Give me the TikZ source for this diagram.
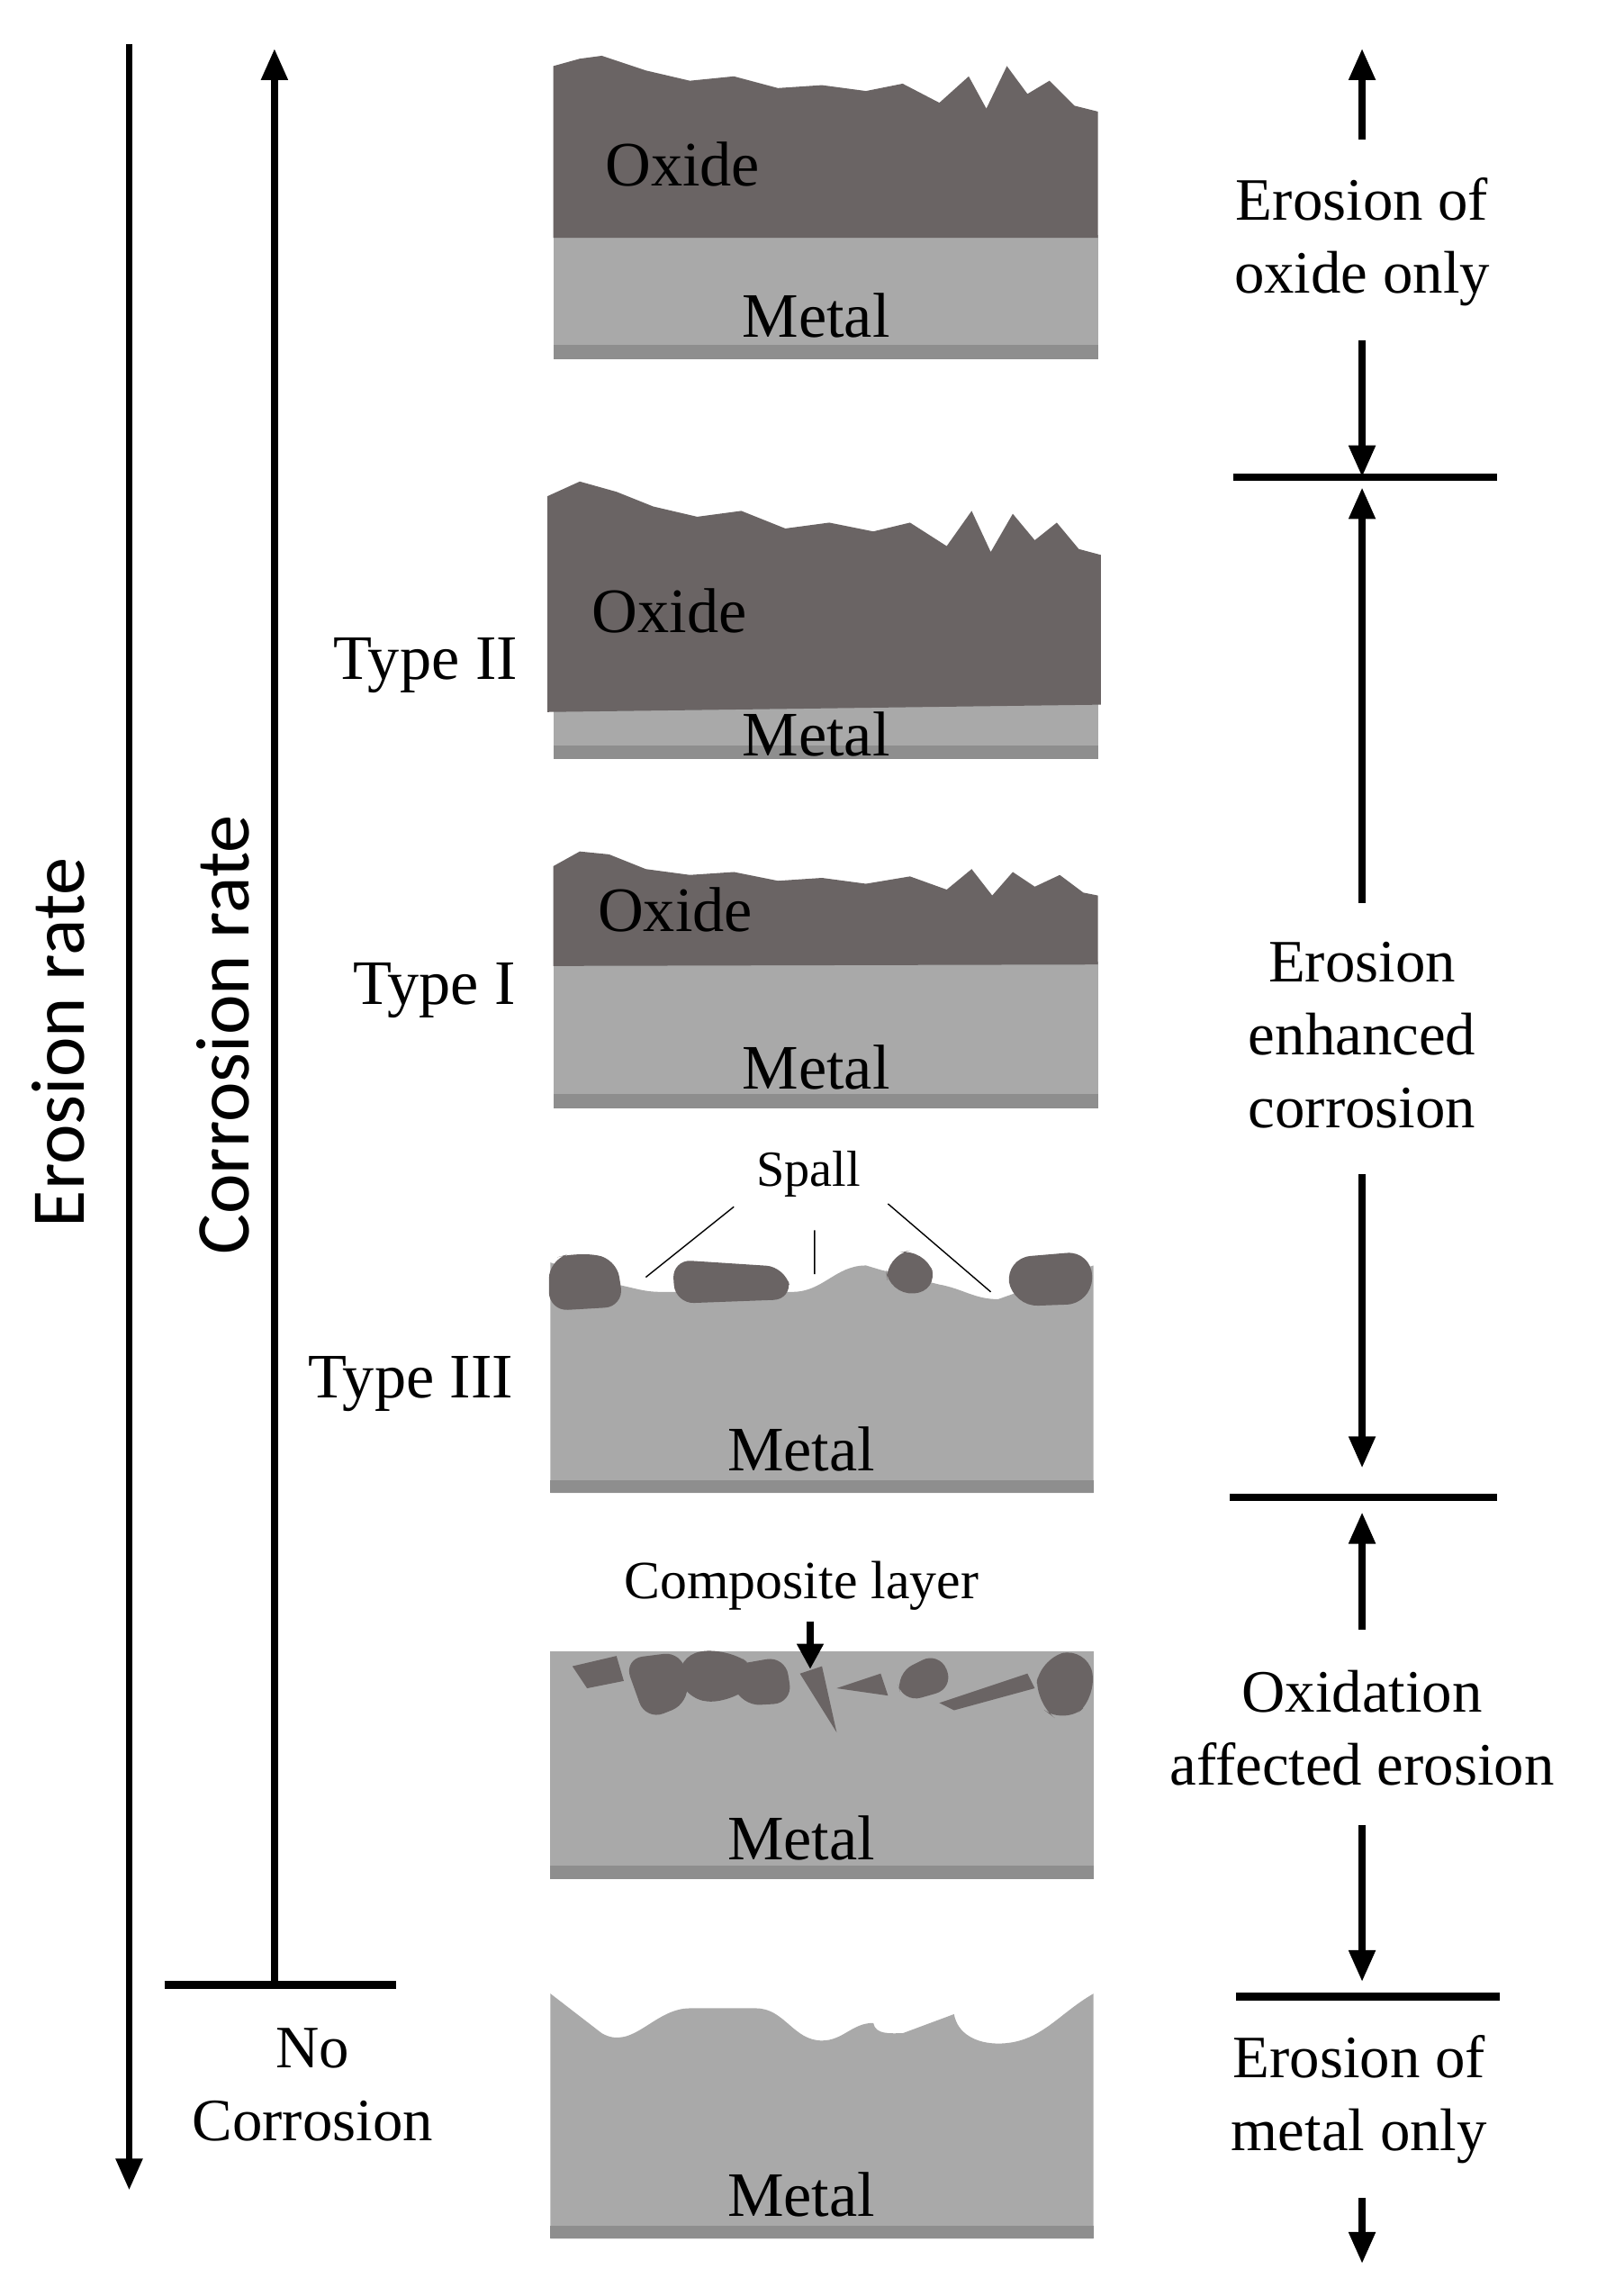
\documentclass[tikz,border=0pt]{standalone}
\usepackage{fontspec}
\setmainfont{Liberation Serif}
\newfontfamily\sansf{Carlito}
\usetikzlibrary{arrows.meta}
\definecolor{metal}{HTML}{A9A9A9}
\definecolor{metaldk}{HTML}{8E8E8E}
\definecolor{oxide}{HTML}{6A6464}
\begin{document}
\begin{tikzpicture}[x=0.0163cm,y=-0.0163cm,
  ar/.style={line width=2.2pt,-{Triangle[length=10pt,width=8pt]}},
  bar/.style={line width=2.5pt},
  lab/.style={font=\fontsize{19}{23}\selectfont,align=center},
  blab/.style={font=\fontsize{20}{24}\selectfont},
  rate/.style={font=\sansf\fontsize{24}{28}\selectfont,rotate=90},
  metalf/.style={fill=metal,draw=none},
  oxf/.style={fill=oxide,draw=none}]
\useasboundingbox (0,0) rectangle (1100,1564);
% left axes
\coordinate (e0) at (88,30); \coordinate (e1) at (88,1492);
\draw[ar] (e0) -- (e1);
\node[rate] (er) at (40,710) {Erosion rate};
\coordinate (c0) at (187,1352); \coordinate (c1) at (187,33);
\draw[ar] (c0) -- (c1);
\node[rate] (cr) at (152,705) {Corrosion rate};
\coordinate (nb0) at (112,1352); \coordinate (nb1) at (270,1352);
\draw[bar] (nb0) -- (nb1);
\node[lab] (nc) at (213,1420) {No\\Corrosion};
% block 1
\fill[metalf] (377,160) rectangle (748,245);
\fill[metaldk] (377,235) -- (748,235) -- (748,245) -- (377,245) -- cycle;
\fill[oxf] (377,162) -- (377,45) -- (395,40) -- (410,38) -- (440,48) -- (470,55) -- (500,52) -- (530,60) -- (560,58) -- (590,62) -- (615,57) -- (640,70) -- (660,52) -- (672,74) -- (686,45) -- (700,64) -- (715,55) -- (732,72) -- (748,76) -- (748,162) -- cycle;
\node[blab] (o1) at (465,112) {Oxide};
\node[blab] (m1) at (556,215) {Metal};
% block 2
\fill[metalf] (377,478) rectangle (748,517);
\fill[metaldk] (377,508) rectangle (748,517);
\fill[oxf] (373,485) -- (373,338) -- (395,328) -- (420,335) -- (445,345) -- (475,352) -- (505,348) -- (535,360) -- (565,356) -- (595,362) -- (620,356) -- (645,372) -- (662,348) -- (675,376) -- (690,350) -- (705,368) -- (720,356) -- (735,374) -- (750,378) -- (750,480) -- cycle;
\node[blab] (o2) at (456,416) {Oxide};
\node[blab] (m2) at (556,500) {Metal};
\node[blab] (t2) at (290,453) {Type II};
% block 3
\fill[metalf] (377,655) rectangle (748,755);
\fill[metaldk] (377,745) rectangle (748,755);
\fill[oxf] (377,658) -- (377,590) -- (395,580) -- (415,582) -- (440,592) -- (470,596) -- (500,594) -- (530,600) -- (560,598) -- (590,602) -- (620,597) -- (645,606) -- (662,592) -- (676,610) -- (690,594) -- (705,604) -- (722,596) -- (738,608) -- (748,610) -- (748,657) -- cycle;
\node[blab] (o3) at (460,620) {Oxide};
\node[blab] (m3) at (556,727) {Metal};
\node[blab] (t1) at (296,675) {Type I};
% block 4
\fill[metalf] (375,860) -- (420,875) to[out=-10,in=180] (450,880) -- (540,880) to[out=0,in=180] (590,862) -- (600,865) -- (640,875) to[out=-10,in=180] (680,885) -- (745,862) -- (745,1017) -- (375,1017) -- cycle;
\fill[metaldk] (375,1008) rectangle (745,1017);
\fill[oxf,rounded corners=6pt] (374,858) -- (392,853) -- (420,857) -- (425,890) -- (374,893) -- cycle;
\fill[oxf,rounded corners=6pt] (458,858) -- (535,863) -- (540,885) -- (460,888) -- cycle;
\fill[oxf,rounded corners=8pt] (603,855) -- (630,850) -- (640,880) -- (605,882) -- cycle;
\fill[oxf,rounded corners=8pt] (685,857) -- (744,852) -- (744,888) -- (690,890) -- cycle;
\node[blab] (m4) at (546,987) {Metal};
\node[blab] (t3) at (280,943) {Type III};
\node[font=\fontsize{16}{19}\selectfont] (sp) at (551,800) {Spall};
\coordinate (s1a) at (500,822); \coordinate (s1b) at (440,870);
\coordinate (s2a) at (555,838); \coordinate (s2b) at (555,868);
\coordinate (s3a) at (605,820); \coordinate (s3b) at (675,880);
\draw[thin] (s1a) -- (s1b) (s2a) -- (s2b) (s3a) -- (s3b);
% block 5
\fill[metalf] (375,1125) -- (745,1125) -- (745,1280) -- (375,1280) -- cycle;
\fill[metaldk] (375,1271) rectangle (745,1280);
\fill[oxf] (390,1135) -- (420,1128) -- (425,1145) -- (400,1150) -- cycle;
\fill[oxf,rounded corners=6pt] (425,1130) -- (465,1125) -- (470,1160) -- (440,1172) -- cycle;
\fill[oxf,rounded corners=8pt] (460,1128) -- (495,1122) -- (520,1140) -- (500,1160) -- (465,1158) -- cycle;
\fill[oxf,rounded corners=6pt] (495,1135) -- (535,1128) -- (540,1160) -- (505,1162) -- cycle;
\fill[oxf] (545,1140) -- (560,1135) -- (570,1180) -- cycle;
\fill[oxf] (570,1150) -- (600,1140) -- (605,1155) -- cycle;
\fill[oxf,rounded corners=6pt] (610,1140) -- (640,1125) -- (650,1150) -- (615,1160) -- cycle;
\fill[oxf] (640,1160) -- (700,1140) -- (705,1150) -- (650,1165) -- cycle;
\fill[oxf,rounded corners=8pt] (708,1130) -- (740,1122) -- (748,1155) -- (725,1175) -- (705,1160) -- cycle;
\node[blab] (m5) at (546,1252) {Metal};
\node[font=\fontsize{17}{20}\selectfont] (cl) at (546,1080) {Composite layer};
\coordinate (clt) at (552,1137);
\draw[line width=2pt,-{Triangle[length=8pt,width=8pt]}] (cl.south -| clt) -- (clt);
% block 6
\fill[metalf] (375,1358) -- (410,1385) to[out=-30,in=180] (470,1368) -- (515,1368) to[out=0,in=180] (560,1390) to[out=0,in=180] (595,1378) to[out=-80,in=180] (615,1385) -- (650,1372) to[out=-80,in=180] (680,1392) to[out=0,in=-150] (745,1358) -- (745,1525) -- (375,1525) -- cycle;
\fill[metaldk] (375,1516) rectangle (745,1525);
\node[blab] (m6) at (546,1495) {Metal};
% right side
\coordinate (r0) at (928,95); \coordinate (r0t) at (928,33);
\draw[ar] (r0) -- (r0t);
\node[lab] (t_a) at (928,165) {Erosion of\\oxide only};
\coordinate (b1) at (928,325);
\draw[ar] (928,232) -- (b1);
\draw[bar] (840,325) -- (1020,325);
\node[lab] (t_b) at (928,705) {Erosion\\enhanced\\corrosion};
\draw[ar] (928,615) -- (928,332);
\draw[ar] (928,800) -- (928,1000);
\draw[bar] (838,1020) -- (1020,1020);
\node[lab] (t_c) at (928,1177) {Oxidation\\affected erosion};
\draw[ar] (928,1110) -- (928,1030);
\draw[ar] (928,1243) -- (928,1350);
\draw[bar] (842,1360) -- (1022,1360);
\node[lab] (t_d) at (926,1430) {Erosion of\\metal only};
\draw[ar] (928,1497) -- (928,1542);
\end{tikzpicture}
\end{document}
